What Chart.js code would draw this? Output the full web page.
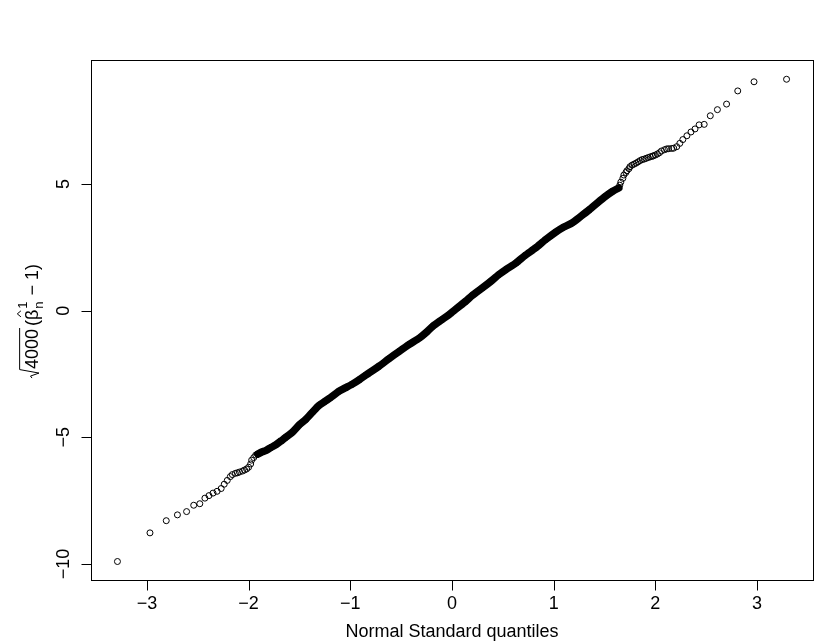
<!DOCTYPE html>
<html>
<head>
<meta charset="utf-8">
<script src="https://cdn.jsdelivr.net/npm/chart.js@4.4.1/dist/chart.umd.min.js"></script>
<style>
  html, body { margin: 0; padding: 0; background: #ffffff; }
  #wrap { width: 830px; height: 642px; }
</style>
</head>
<body>
<div id="wrap"><canvas id="c" width="830" height="642"></canvas></div>
<script>
// ---- data ----
const leftTailX = [-3.29, -2.97, -2.81, -2.70, -2.61, -2.54, -2.48, -2.43, -2.39, -2.35, -2.31, -2.27, -2.24, -2.21, -2.18, -2.16, -2.13, -2.11, -2.09, -2.06, -2.04, -2.02, -2.00, -1.98, -1.97, -1.95, -1.93];
const leftTailY = [-9.90, -8.77, -8.29, -8.06, -7.93, -7.68, -7.62, -7.40, -7.30, -7.20, -7.13, -7.02, -6.85, -6.70, -6.55, -6.47, -6.42, -6.40, -6.37, -6.33, -6.29, -6.25, -6.18, -6.05, -5.90, -5.80, -5.70];

const bandX = [-1.91, -1.87, -1.83, -1.78, -1.73, -1.68, -1.64, -1.57, -1.50, -1.44, -1.37, -1.31, -1.25, -1.20, -1.11, -1.05, -0.98, -0.91, -0.85, -0.80, -0.72, -0.62, -0.52, -0.42, -0.32, -0.25, -0.19, -0.10, -0.03, 0.05, 0.135, 0.20, 0.30, 0.38, 0.46, 0.53, 0.63, 0.72, 0.82, 0.92, 1.02, 1.10, 1.18, 1.26, 1.35, 1.43, 1.51, 1.58, 1.64];
const bandY = [-5.66, -5.58, -5.52, -5.40, -5.29, -5.14, -5.02, -4.80, -4.50, -4.30, -4.00, -3.75, -3.58, -3.45, -3.18, -3.05, -2.90, -2.72, -2.55, -2.42, -2.20, -1.90, -1.61, -1.33, -1.08, -0.85, -0.62, -0.36, -0.16, 0.10, 0.37, 0.60, 0.90, 1.15, 1.42, 1.62, 1.88, 2.18, 2.47, 2.80, 3.10, 3.30, 3.46, 3.70, 3.98, 4.25, 4.51, 4.71, 4.84];

const rightTailX = [1.65, 1.66, 1.68, 1.69, 1.71, 1.72, 1.74, 1.75, 1.77, 1.79, 1.81, 1.83, 1.85, 1.87, 1.89, 1.91, 1.93, 1.95, 1.97, 1.98, 2.00, 2.02, 2.04, 2.06, 2.09, 2.11, 2.13, 2.16, 2.18, 2.21, 2.24, 2.27, 2.31, 2.35, 2.39, 2.43, 2.48, 2.54, 2.61, 2.70, 2.81, 2.97, 3.29];
const rightTailY = [4.95, 5.07, 5.22, 5.35, 5.45, 5.52, 5.60, 5.68, 5.74, 5.78, 5.82, 5.87, 5.92, 5.96, 5.98, 6.01, 6.04, 6.07, 6.09, 6.11, 6.14, 6.18, 6.23, 6.30, 6.35, 6.38, 6.39, 6.40, 6.41, 6.47, 6.60, 6.75, 6.90, 7.05, 7.17, 7.33, 7.35, 7.69, 7.93, 8.15, 8.67, 9.03, 9.13];

const xTicks = [-3, -2, -1, 0, 1, 2, 3];
const yTicks = [-10, -5, 0, 5];
const xTitle = "Normal Standard quantiles";
const yTitleParts = { root: "4000", base: "\u03B2", sub: "n", sup: "1", tail: "\u2212 1" };

// ---- build library structures ----
function pts(xs, ys) { return xs.map((x, i) => ({ x: x, y: ys[i] })); }
const allPoints = pts(leftTailX, leftTailY).concat(pts(bandX, bandY), pts(rightTailX, rightTailY));
const bandPoints = pts(bandX, bandY);

const FONT = '"Liberation Sans", Arial, Helvetica, sans-serif';
const FS = 18;

function fmt(v) { return v < 0 ? "\u2212" + Math.abs(v) : String(v); }

const rAxes = {
  id: 'rAxes',
  afterDraw(chart) {
    const ctx = chart.ctx;
    const a = chart.chartArea;
    const xs = chart.scales.x, ys = chart.scales.y;
    const L = Math.round(a.left) + 0.5, R = Math.round(a.right) + 0.5;
    const T = Math.round(a.top) + 0.5, B = Math.round(a.bottom) + 0.5;
    ctx.save();
    ctx.strokeStyle = '#000';
    ctx.lineWidth = 1;
    ctx.strokeRect(L, T, R - L, B - T);
    const tl = 10;
    ctx.fillStyle = '#000';
    ctx.font = FS + 'px ' + FONT;
    // x axis
    ctx.beginPath();
    xTicks.forEach(v => {
      const px = Math.round(xs.getPixelForValue(v)) + 0.5;
      ctx.moveTo(px, B); ctx.lineTo(px, B + tl);
    });
    ctx.stroke();
    ctx.textAlign = 'center';
    ctx.textBaseline = 'middle';
    xTicks.forEach(v => {
      const px = xs.getPixelForValue(v);
      ctx.fillText(fmt(v), px, 604);
    });
    ctx.fillText(xTitle, (a.left + a.right) / 2, 632);
    // y axis
    ctx.beginPath();
    yTicks.forEach(v => {
      const py = Math.round(ys.getPixelForValue(v)) + 0.5;
      ctx.moveTo(L, py); ctx.lineTo(L - tl, py);
    });
    ctx.stroke();
    yTicks.forEach(v => {
      const py = ys.getPixelForValue(v);
      ctx.save();
      ctx.translate(64, py);
      ctx.rotate(-Math.PI / 2);
      ctx.textAlign = 'center';
      ctx.textBaseline = 'middle';
      ctx.fillText(fmt(v), 0, 0);
      ctx.restore();
    });
    // y title: sqrt(4000) (hat(beta)[n]^1 - 1)
    const big = FS + 'px ' + FONT, small = Math.round(FS * 0.72) + 'px ' + FONT;
    ctx.font = big;
    const wRoot = ctx.measureText(yTitleParts.root).width;
    const wOpen = ctx.measureText('(').width;
    const wBeta = ctx.measureText(yTitleParts.base).width;
    const wTail = ctx.measureText(' ' + yTitleParts.tail + ')').width;
    ctx.font = small;
    const wSS = Math.max(ctx.measureText(yTitleParts.sub).width, ctx.measureText(yTitleParts.sup).width);
    const radW = 9, gap = 3;
    const total = radW + wRoot + gap + wOpen + wBeta + wSS + 2 + wTail;
    const cy = 321, baseX = 38;
    ctx.save();
    ctx.translate(baseX, cy);
    ctx.rotate(-Math.PI / 2);
    let x = -total / 2;
    ctx.textAlign = 'left';
    ctx.textBaseline = 'alphabetic';
    // radical
    ctx.beginPath();
    ctx.moveTo(x, -6);
    ctx.lineTo(x + 2, -7.5);
    ctx.lineTo(x + 5, 1);
    ctx.lineTo(x + 8.5, -FS * 1.02);
    ctx.lineTo(x + radW + wRoot + 1, -FS * 1.02);
    ctx.stroke();
    x += radW;
    ctx.font = big;
    ctx.fillText(yTitleParts.root, x, 0);
    x += wRoot + gap;
    ctx.fillText('(', x, 0);
    x += wOpen;
    ctx.fillText(yTitleParts.base, x, 0);
    // hat
    ctx.beginPath();
    const hx = x + wBeta / 2 + 1;
    ctx.moveTo(hx - 3, -FS * 0.95);
    ctx.lineTo(hx, -FS * 1.15);
    ctx.lineTo(hx + 3, -FS * 0.95);
    ctx.stroke();
    x += wBeta;
    ctx.font = small;
    ctx.fillText(yTitleParts.sub, x + 1, FS * 0.28);
    ctx.fillText(yTitleParts.sup, x + 1, -FS * 0.62);
    x += wSS + 2;
    ctx.font = big;
    ctx.fillText(' ' + yTitleParts.tail + ')', x, 0);
    ctx.restore();
    ctx.restore();
  }
};

new Chart(document.getElementById('c'), {
  type: 'scatter',
  data: {
    datasets: [
      {
        label: 'band',
        data: bandPoints,
        showLine: true,
        borderColor: '#000',
        borderWidth: 7.5,
        borderCapStyle: 'round',
        borderJoinStyle: 'round',
        tension: 0.2,
        pointRadius: 0,
        pointHoverRadius: 0
      },
      {
        label: 'quantiles',
        data: allPoints,
        showLine: false,
        pointStyle: 'circle',
        pointRadius: 3,
        pointBorderWidth: 1,
        pointBorderColor: '#000',
        pointBackgroundColor: 'rgba(0,0,0,0)',
        pointHoverRadius: 3
      }
    ]
  },
  options: {
    responsive: false,
    animation: false,
    devicePixelRatio: 1,
    layout: { padding: { left: 91, right: 17, top: 60, bottom: 62 } },
    plugins: { legend: { display: false }, tooltip: { enabled: false }, title: { display: false } },
    events: [],
    scales: {
      x: { type: 'linear', min: -3.55, max: 3.55, display: false },
      y: { type: 'linear', min: -10.63, max: 9.89, display: false }
    }
  },
  plugins: [rAxes]
});
</script>
</body>
</html>
